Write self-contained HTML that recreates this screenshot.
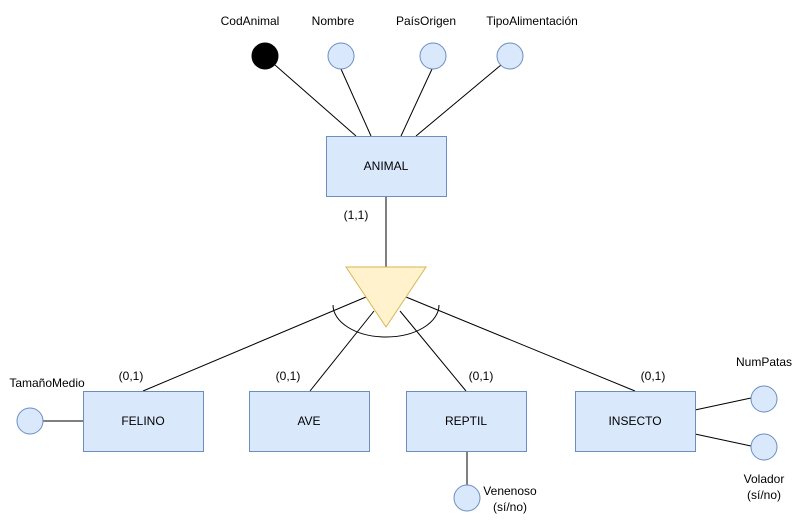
<!DOCTYPE html>
<html><head><meta charset="utf-8"><style>
html,body{margin:0;padding:0;background:#fff;width:803px;height:523px;overflow:hidden}
svg text{font-family:"Liberation Sans",Arial,sans-serif;font-size:12px;fill:#000}
</style></head><body>
<svg width="803" height="523" viewBox="0 0 803 523" xmlns="http://www.w3.org/2000/svg">
<g stroke="#000" stroke-width="1" fill="none">
<line x1="275" y1="65" x2="356" y2="136"/>
<line x1="341" y1="69" x2="371" y2="136"/>
<line x1="432" y1="69" x2="401" y2="136"/>
<line x1="501" y1="65" x2="416" y2="136"/>
<line x1="386" y1="196" x2="386" y2="267"/>
<line x1="366" y1="297" x2="143" y2="391"/>
<line x1="374" y1="311" x2="310" y2="391"/>
<line x1="400" y1="311" x2="466" y2="391"/>
<line x1="406" y1="297" x2="635" y2="391"/>
<line x1="43" y1="421" x2="83" y2="421"/>
<line x1="467" y1="451" x2="467" y2="485"/>
<line x1="695" y1="410" x2="751" y2="398"/>
<line x1="695" y1="434" x2="751" y2="446"/>
</g>
<polygon points="346,267 426,267 386,327" fill="#fff2cc" stroke="#d6b656"/>
<path d="M333,305 A53,32 0 0 0 439,305" fill="none" stroke="#000"/>
<g fill="#dae8fc" stroke="#6c8ebf">
<rect x="326.5" y="136.5" width="120" height="60"/>
<rect x="83.5" y="391.5" width="120" height="60"/>
<rect x="249.5" y="391.5" width="120" height="60"/>
<rect x="406.5" y="391.5" width="120" height="60"/>
<rect x="575.5" y="391.5" width="120" height="60"/>
<circle cx="341" cy="56" r="13"/>
<circle cx="433" cy="56" r="13"/>
<circle cx="510" cy="56" r="13"/>
<circle cx="30" cy="421" r="13"/>
<circle cx="467" cy="498" r="13"/>
<circle cx="764" cy="399" r="13"/>
<circle cx="764" cy="447" r="13"/>
</g>
<circle cx="265" cy="56" r="13" fill="#000" stroke="#000"/>
<g text-anchor="middle">
<text x="250" y="25">CodAnimal</text>
<text x="333" y="25">Nombre</text>
<text x="426" y="25">PaísOrigen</text>
<text x="532" y="25">TipoAlimentación</text>
<text x="386" y="170">ANIMAL</text>
<text x="356" y="219">(1,1)</text>
<text x="143" y="425">FELINO</text>
<text x="309" y="425">AVE</text>
<text x="466" y="425">REPTIL</text>
<text x="635" y="425">INSECTO</text>
<text x="131" y="380">(0,1)</text>
<text x="288" y="380">(0,1)</text>
<text x="481" y="380">(0,1)</text>
<text x="653" y="380">(0,1)</text>
<text x="47" y="387">TamañoMedio</text>
<text x="764" y="366">NumPatas</text>
<text x="764" y="483">Volador</text>
<text x="764" y="499">(sí/no)</text>
<text x="510" y="495">Venenoso</text>
<text x="510" y="511">(sí/no)</text>
</g>
</svg>
</body></html>
